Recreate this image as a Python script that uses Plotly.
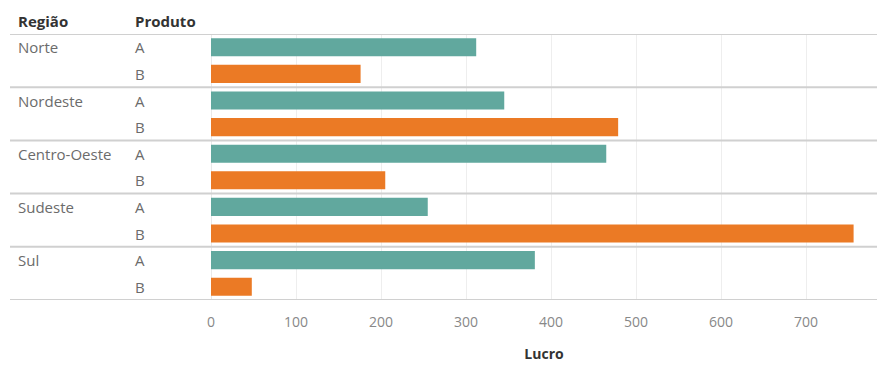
import plotly.graph_objects as go

regions = ["Norte", "Nordeste", "Centro-Oeste", "Sudeste", "Sul"]
products = ["A", "B"]
lucro_a = [312, 345, 465, 255, 381]
lucro_b = [176, 479, 205, 756, 48]
x_ticks = [0, 100, 200, 300, 400, 500, 600, 700]

teal = "#61a89e"
orange = "#eb7a25"
txt = "#6b6b6b"
font_family = "'Open Sans', Lato, sans-serif"

keys_order = [f"{r}|{p}" for r in regions for p in products]
keys_a = [f"{r}|A" for r in regions]
keys_b = [f"{r}|B" for r in regions]

fig = go.Figure()
fig.add_trace(go.Bar(y=keys_a, x=lucro_a, orientation="h", marker=dict(color=teal, line=dict(width=0)),
                     width=0.68, name="A", showlegend=False))
fig.add_trace(go.Bar(y=keys_b, x=lucro_b, orientation="h", marker=dict(color=orange, line=dict(width=0)),
                     width=0.68, name="B", showlegend=False))

W, H = 877, 365
L, R, T, B = 211, 0, 34, 65
pw = W - L - R
ph = H - T - B

def px_to_paper_x(px):
    return (px - L) / pw

def px_to_paper_y(py):
    return 1 - (py - T) / ph

shapes = []
n = len(keys_order)
for i in range(0, n + 1, 2):
    shapes.append(dict(type="line", xref="paper", yref="y", x0=px_to_paper_x(10), x1=1,
                       y0=i - 0.5, y1=i - 0.5, line=dict(color="#d0d0d0", width=2), layer="above"))
shapes.append(dict(type="line", xref="x", yref="paper", x0=0, x1=0, y0=0, y1=1,
                   line=dict(color="#d4d4d4", width=1), layer="below"))

annotations = []
for r in regions:
    annotations.append(dict(text=r, xref="paper", yref="y", x=px_to_paper_x(16), y=f"{r}|A",
                            xanchor="left", yanchor="middle", showarrow=False,
                            font=dict(size=15, color=txt, family=font_family)))
    for p in products:
        annotations.append(dict(text=p, xref="paper", yref="y", x=px_to_paper_x(133), y=f"{r}|{p}",
                                xanchor="left", yanchor="middle", showarrow=False,
                                font=dict(size=15, color=txt, family=font_family)))
for label, xp in [("Região", 16), ("Produto", 133)]:
    annotations.append(dict(text=f"<b>{label}</b>", xref="paper", yref="paper", x=px_to_paper_x(xp),
                            y=px_to_paper_y(21), xanchor="left", yanchor="middle", showarrow=False,
                            font=dict(size=15, color="#333333", family=font_family)))

fig.update_layout(
    width=W, height=H,
    margin=dict(l=L, r=R, t=T, b=B),
    paper_bgcolor="white", plot_bgcolor="white",
    barmode="overlay",
    font=dict(family=font_family, color=txt),
    xaxis=dict(range=[0, pw / 0.85], tickvals=x_ticks, showgrid=True, gridcolor="#eeeeee", gridwidth=1,
               zeroline=False, showline=False, ticks="", ticklabelstandoff=12,
               tickfont=dict(size=14, color="#888888"),
               title=dict(text="<b>Lucro</b>", font=dict(size=14, color="#333333"), standoff=19)),
    yaxis=dict(categoryorder="array", categoryarray=keys_order, range=[n - 0.5, -0.5],
               showticklabels=False, showgrid=False, zeroline=False, showline=False, ticks=""),
    shapes=shapes, annotations=annotations,
)

fig.write_html("out.html")
